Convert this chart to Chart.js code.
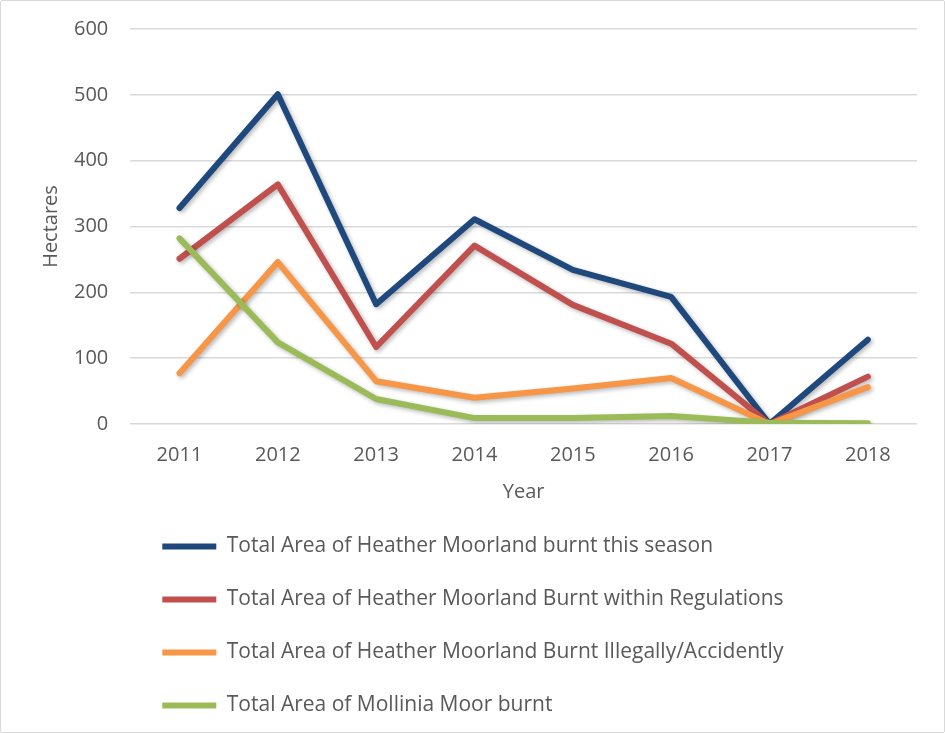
<!DOCTYPE html>
<html>
<head>
<meta charset="utf-8">
<script src="https://cdn.jsdelivr.net/npm/chart.js@4.4.1/dist/chart.umd.min.js"></script>
<style>
	html, body { margin: 0; padding: 0; background: #fff; }
	#wrap { position: relative; width: 945px; height: 733px; }
	#wrap::after {
		content: ''; position: absolute; left: 0; top: 0; right: 0; bottom: 0;
		border: 1px solid #d9d9d9; border-radius: 2px; pointer-events: none;
	}
</style>
</head>
<body>
<div id="wrap"><canvas id="chart"></canvas></div>
<script>
( function () {
	'use strict';

	// ---------------------------------------------------------------
	// Data (hectares)
	// ---------------------------------------------------------------
	const YEARS        = [ '2011', '2012', '2013', '2014', '2015', '2016', '2017', '2018' ];
	const SEASON_TOTAL = [ 328, 501, 182, 311, 234, 193, 0, 128 ];
	const WITHIN_REGS  = [ 251, 364, 117, 271, 181, 122, 0, 72 ];
	const ILLEGAL      = [ 77, 246, 65, 40, 54, 70, 0, 56 ];
	const MOLLINIA     = [ 282, 124, 38, 9, 9, 12, 2, 1 ];
	const Y_TICKS      = { min: 0, max: 600, step: 100 };

	const BLUE   = '#1f497d';
	const RED    = '#c0504d';
	const ORANGE = '#f79646';
	const GREEN  = '#9bbb59';
	const TEXT   = '#595959';
	const GRID   = '#d9d9d9';
	const FONT   = "'Open Sans', sans-serif";

	function series( label, data, color, order ) {
		return {
			label           : label,
			data            : data,
			borderColor     : color,
			backgroundColor : color,
			borderWidth     : 6,
			borderCapStyle  : 'round',
			borderJoinStyle : 'round',
			pointRadius     : 0,
			pointHoverRadius: 0,
			tension         : 0,
			fill            : false,
			order           : order,
		};
	}

	// soft drop shadow like the office line effect
	const lineShadow = {
		id: 'lineShadow',
		beforeDatasetDraw( chart ) {
			const ctx = chart.ctx;
			ctx.save();
			ctx.shadowColor   = 'rgba(0,0,0,0.28)';
			ctx.shadowBlur    = 4;
			ctx.shadowOffsetX = 2;
			ctx.shadowOffsetY = 2;
		},
		afterDatasetDraw( chart ) {
			chart.ctx.restore();
		},
	};

	new Chart( document.getElementById( 'chart' ), {
		type: 'line',
		data: {
			labels  : YEARS,
			datasets: [
				series( 'Total Area of Heather Moorland burnt this season', SEASON_TOTAL, BLUE, 4 ),
				series( 'Total Area of Heather Moorland Burnt within Regulations', WITHIN_REGS, RED, 3 ),
				series( 'Total Area of Heather Moorland Burnt Illegally/Accidently', ILLEGAL, ORANGE, 2 ),
				series( 'Total Area of Mollinia Moor burnt', MOLLINIA, GREEN, 1 ),
			],
		},
		options: {
			responsive         : true,
			maintainAspectRatio: false,
			animation          : false,
			layout: { padding: { left: 20, right: 28, top: 29, bottom: 7 } },
			plugins: {
				tooltip: { enabled: false },
				legend : {
					position: 'bottom',
					align   : 'start',
					fullSize: false,
					labels  : {
						usePointStyle  : true,
						pointStyle     : 'line',
						pointStyleWidth: 54,
						padding        : 32,
						color          : TEXT,
						font           : { family: FONT, size: 21 },
						sort           : ( a, b ) => a.datasetIndex - b.datasetIndex,
					},
				},
			},
			scales: {
				x: {
					offset: true,
					grid  : { display: false, drawTicks: true, tickLength: 14 },
					border: { display: false },
					ticks : { color: TEXT, padding: 5, font: { family: FONT, size: 20 } },
					title : {
						display: true,
						text   : 'Year',
						color  : TEXT,
						font   : { family: FONT, size: 20 },
						padding: { top: 8, bottom: 0 },
					},
				},
				y: {
					min   : Y_TICKS.min,
					max   : Y_TICKS.max,
					grid  : {
						color     : GRID,
						lineWidth : 1.5,
						drawTicks : true,
						tickLength: 18,
						tickColor : 'rgba(0,0,0,0)',
					},
					border: { display: false },
					ticks : {
						stepSize: Y_TICKS.step,
						color   : TEXT,
						padding : 4,
						font    : { family: FONT, size: 20 },
					},
					title : {
						display: true,
						text   : 'Hectares',
						color  : TEXT,
						font   : { family: FONT, size: 20 },
						padding: { top: 19, bottom: 7 },
					},
				},
			},
		},
		plugins: [ lineShadow ],
	} );
} )();
</script>
</body>
</html>
